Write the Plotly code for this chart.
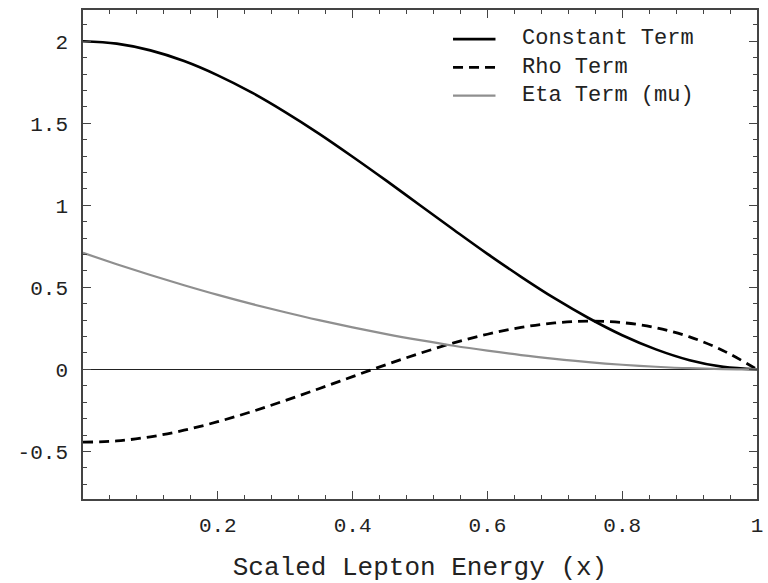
import plotly.graph_objects as go

# Scaled lepton energy samples
x_vals = [0.00, 0.05, 0.10, 0.15, 0.20, 0.25, 0.30, 0.35, 0.40, 0.45, 0.50,
          0.55, 0.60, 0.65, 0.70, 0.75, 0.80, 0.85, 0.90, 0.95, 1.00]

constant_term = [2.000, 1.985, 1.944, 1.879, 1.792, 1.688, 1.568, 1.437, 1.296, 1.150, 1.000,
                 0.851, 0.704, 0.564, 0.432, 0.313, 0.208, 0.122, 0.056, 0.015, 0.000]

rho_term = [-0.444, -0.436, -0.411, -0.371, -0.319, -0.258, -0.190, -0.118, -0.044, 0.029, 0.098,
            0.161, 0.214, 0.256, 0.283, 0.294, 0.285, 0.254, 0.198, 0.114, 0.000]

eta_term = [0.710, 0.641, 0.575, 0.513, 0.454, 0.399, 0.348, 0.300, 0.256, 0.215, 0.178,
            0.144, 0.114, 0.087, 0.064, 0.044, 0.028, 0.016, 0.007, 0.002, 0.000]

series_names = ["Constant Term", "Rho Term", "Eta Term (mu)"]

x_tickvals = [0.2, 0.4, 0.6, 0.8, 1.0]
x_ticktext = ["0.2", "0.4", "0.6", "0.8", "1"]
y_tickvals = [-0.5, 0, 0.5, 1, 1.5, 2]
y_ticktext = ["-0.5", "0", "0.5", "1", "1.5", "2"]

FONT = "Liberation Mono, Courier New, monospace"
styles = [
    dict(color="black", width=2.6, dash="solid"),
    dict(color="black", width=2.8, dash="10px,6px"),
    dict(color="#8f8f8f", width=2.2, dash="solid"),
]

fig = go.Figure()
for name, ys, st in zip(series_names, [constant_term, rho_term, eta_term], styles):
    fig.add_trace(go.Scatter(x=x_vals, y=ys, mode="lines", name=name,
                             line=dict(shape="spline", smoothing=1.0, **st),
                             showlegend=False))

# Manual legend (to reproduce the tight row spacing of the original)
leg_y = [0.9405, 0.8826, 0.8248]
for st, yy in zip(styles, leg_y):
    fig.add_shape(type="line", xref="paper", yref="paper", x0=0.549, x1=0.612, y0=yy, y1=yy,
                  line=dict(color=st["color"], width=st["width"], dash=st["dash"]))
fig.add_annotation(xref="paper", yref="paper", x=0.648, y=leg_y[1],
                   text="<br>".join(series_names), showarrow=False, align="left",
                   xanchor="left", yanchor="middle",
                   font=dict(family=FONT, size=22, color="#222"))

axis_common = dict(showline=True, linecolor="#444", linewidth=1.6, mirror="allticks",
                   ticks="inside", ticklen=8, tickcolor="#444", tickwidth=1,
                   showgrid=False, tickfont=dict(family=FONT, size=21, color="#222"))

fig.update_xaxes(range=[0, 1], tickvals=x_tickvals, ticktext=x_ticktext, zeroline=False,
                 minor=dict(ticks="inside", ticklen=4, dtick=0.04, tick0=0, tickcolor="#444"),
                 title=dict(text="Scaled Lepton Energy (x)", standoff=22,
                            font=dict(family=FONT, size=26, color="#222")),
                 ticklabelstandoff=6,
                 **axis_common)
fig.update_yaxes(range=[-0.79, 2.19], tickvals=y_tickvals, ticktext=y_ticktext,
                 zeroline=True, zerolinecolor="#222", zerolinewidth=1,
                 minor=dict(ticks="inside", ticklen=4, dtick=0.1, tick0=0, tickcolor="#444"),
                 ticklabelstandoff=9,
                 **axis_common)

fig.update_layout(width=768, height=583, margin=dict(l=83, r=5, t=10, b=79),
                  plot_bgcolor="white", paper_bgcolor="white")

fig.write_html("out.html")
